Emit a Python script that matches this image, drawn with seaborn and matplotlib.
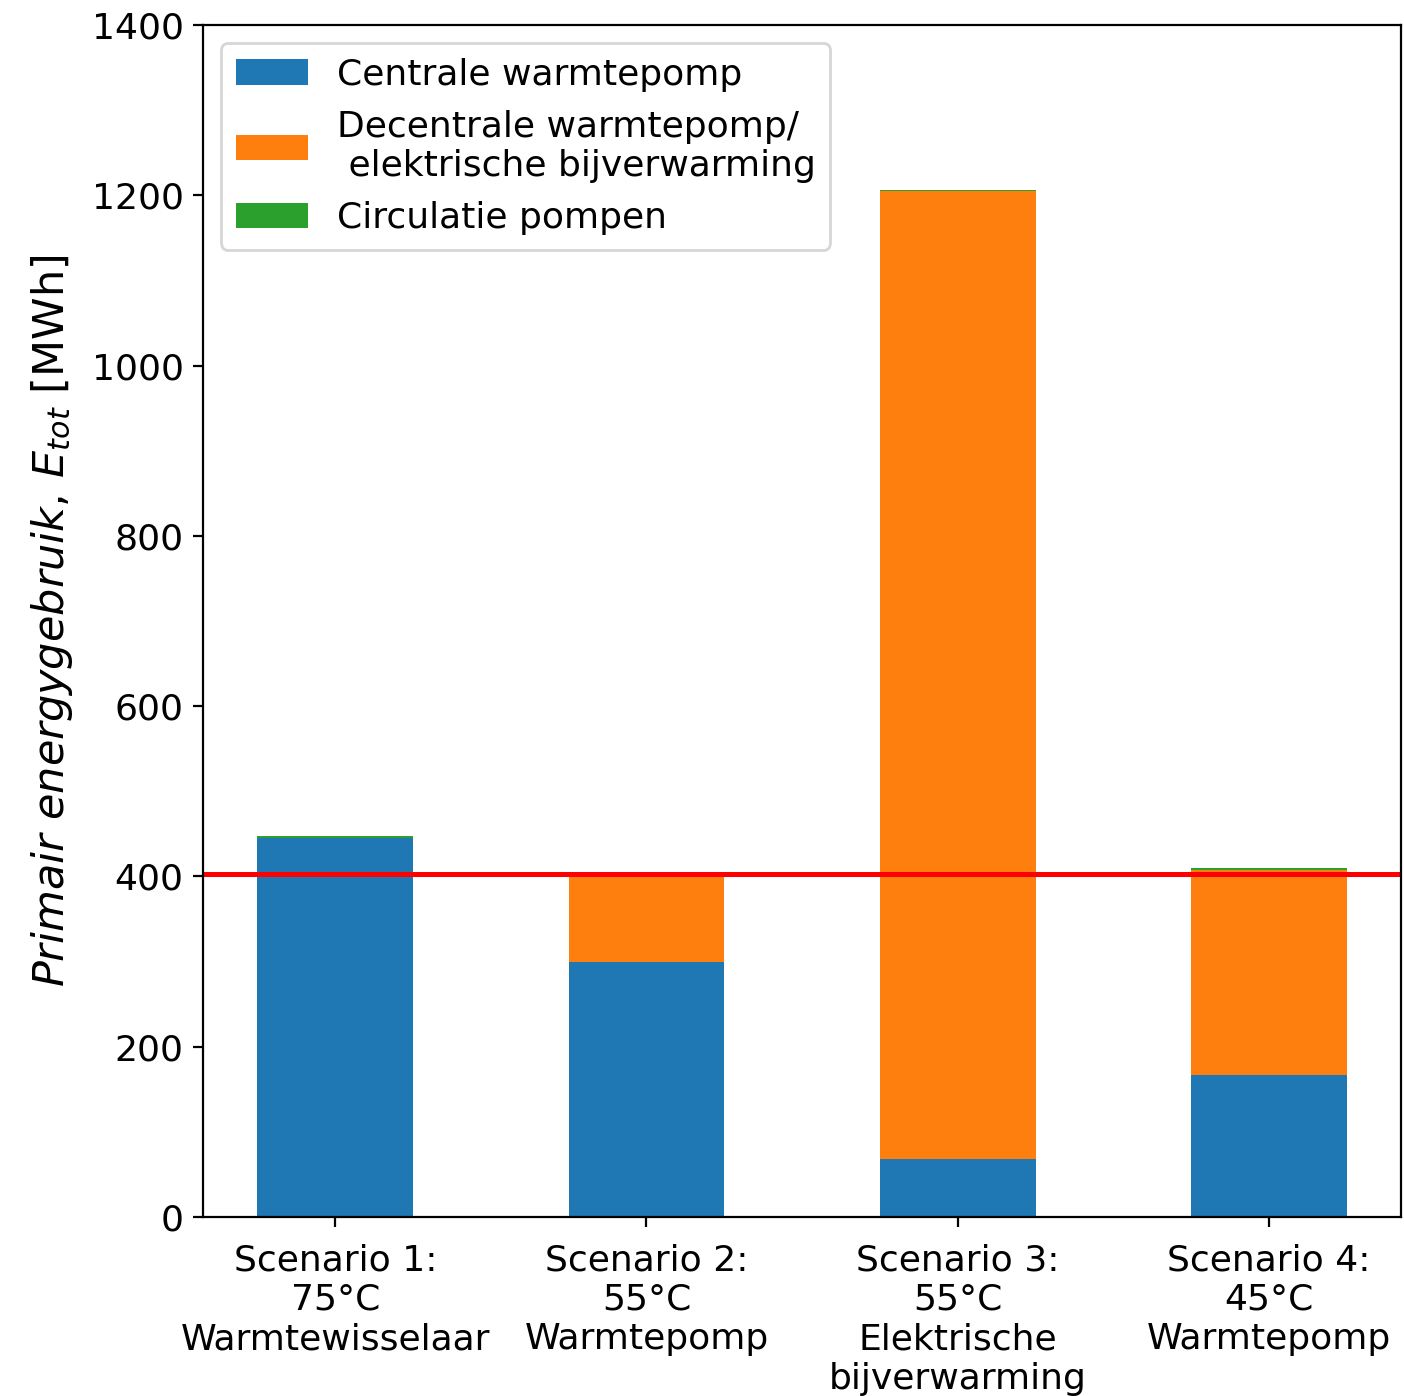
import matplotlib
matplotlib.use("Agg")
import matplotlib.pyplot as plt
import seaborn as sns
import pandas as pd
import numpy as np

scenarios = ["Scenario 1:\n75°C\nWarmtewisselaar",
             "Scenario 2:\n55°C\nWarmtepomp",
             "Scenario 3:\n55°C\nElektrische\nbijverwarming",
             "Scenario 4:\n45°C\nWarmtepomp"]
centrale = [445, 300, 68, 167]
decentrale = [0, 101, 1137, 241]
circulatie = [2, 1, 1, 2]
reference_level = 403

labels = ["Centrale warmtepomp",
          "Decentrale warmtepomp/\n elektrische bijverwarming",
          "Circulatie pompen"]
colors = ["#1f77b4", "#ff7f0e", "#2ca02c"]

plt.rcParams["font.size"] = 13
plt.rcParams["mathtext.fontset"] = "dejavusans"

c1 = np.array(centrale)
c2 = c1 + np.array(decentrale)
c3 = c2 + np.array(circulatie)
df = pd.DataFrame({"scenario": scenarios, "c1": c1, "c2": c2, "c3": c3})

fig = plt.figure(figsize=(7.02, 6.98), dpi=200)
ax = fig.add_axes([0.1446, 0.1282, 0.998 - 0.1446, 0.982 - 0.1282])

for col, color, label in [("c3", colors[2], labels[2]),
                          ("c2", colors[1], labels[1]),
                          ("c1", colors[0], labels[0])]:
    sns.barplot(data=df, x="scenario", y=col, color=color, saturation=1,
                width=0.5, ax=ax, label=label, linewidth=0)

ax.axhline(reference_level, color="red", linewidth=1.8)
ax.set_ylim(0, 1400)
ax.set_xlim(-0.425, 3.425)
ax.set_xlabel("")
ax.set_ylabel(r"$\mathit{Primair\ energygebruik,\,E_{tot}}$ [MWh]", fontsize=15.5, labelpad=6)
ax.tick_params(axis="both", labelsize=13)
ax.tick_params(axis="x", pad=6)

handles, labs = ax.get_legend_handles_labels()
order = [labs.index(l) for l in labels]
ax.legend([handles[i] for i in order], [labs[i] for i in order], loc="upper left", fontsize=13)

fig.savefig("out.png", dpi=200)
